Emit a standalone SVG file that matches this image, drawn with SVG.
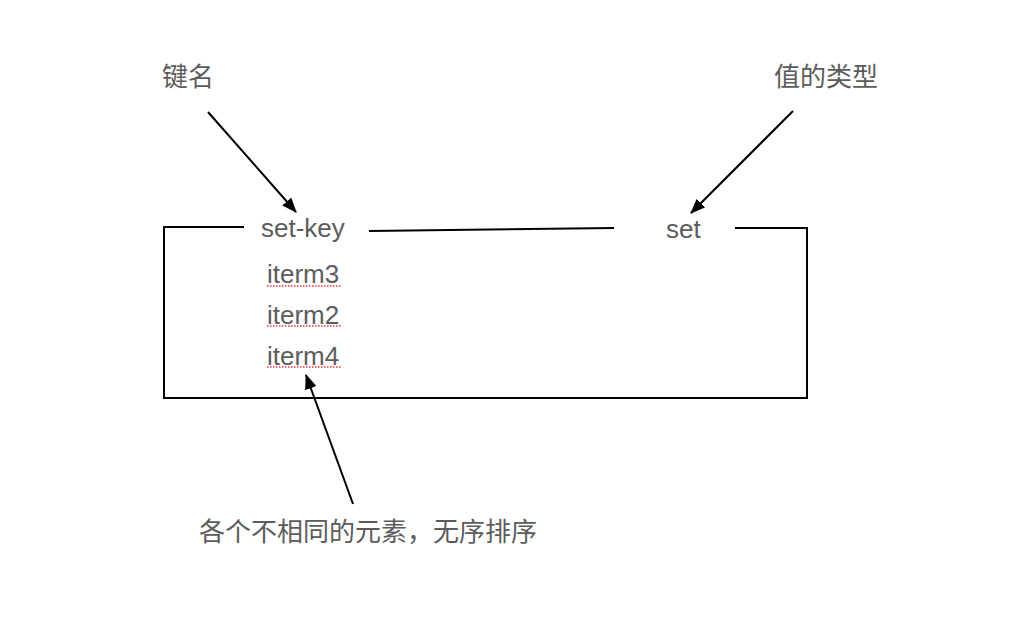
<svg xmlns="http://www.w3.org/2000/svg" width="1020" height="630" viewBox="0 0 1020 630">
<defs>
<style>
.t{font-family:"Liberation Sans","Noto Sans CJK SC",sans-serif;font-size:26px;fill:#5c5c5c}
.c{font-family:"Noto Sans CJK SC","Liberation Sans",sans-serif;font-size:26px;fill:#5c5c5c}
.ln{stroke:#000;stroke-width:2;fill:none}
.sq{stroke:#e83a3a;stroke-width:1.3;stroke-dasharray:1.5 1.5;fill:none}
</style>
<marker id="ah" markerUnits="userSpaceOnUse" markerWidth="16" markerHeight="12" refX="14" refY="6" orient="auto">
<path d="M0,0 L15,6 L0,12 Z" fill="#000"/>
</marker>
</defs>
<rect width="1020" height="630" fill="#fff"/>
<g id="box">
<path class="ln" d="M244,227 H164 V398 H807 V228 H735"/>
</g>
<g id="connectors">
<line class="ln" x1="369" y1="231" x2="614" y2="228"/>
<line class="ln" x1="208" y1="112" x2="296" y2="212" marker-end="url(#ah)"/>
<line class="ln" x1="793" y1="111" x2="691" y2="213" marker-end="url(#ah)"/>
<line class="ln" x1="353" y1="504" x2="306" y2="375" marker-end="url(#ah)"/>
</g>
<g id="set-key"><text class="t" x="261" y="237">set-key</text></g>
<g id="set"><text class="t" x="666" y="238">set</text></g>
<g id="items">
<text class="t" x="267" y="283">iterm3</text>
<text class="t" x="267" y="324">iterm2</text>
<text class="t" x="267" y="365">iterm4</text>
<line class="sq" x1="267" y1="286" x2="342" y2="286"/>
<line class="sq" x1="267" y1="326" x2="342" y2="326"/>
<line class="sq" x1="267" y1="367" x2="342" y2="367"/>
</g>
<g id="label-key"><text class="c" x="162" y="86">键名</text></g>
<g id="label-type"><text class="c" x="774" y="86">值的类型</text></g>
<g id="label-elements"><text class="c" x="199" y="541">各个不相同的元素，无序排序</text></g>
</svg>
